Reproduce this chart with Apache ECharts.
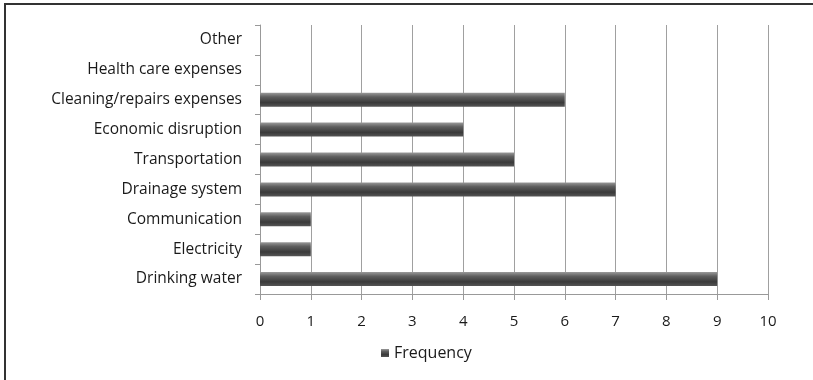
<!DOCTYPE html>
<html>
<head>
<meta charset="utf-8">
<script src="https://cdn.jsdelivr.net/npm/echarts@6/dist/echarts.min.js"></script>
<style>
  html, body { margin: 0; padding: 0; background: #fff; }
  #chart { width: 813px; height: 380px; }
</style>
</head>
<body>
<div id="chart"></div>
<script>
// categories bottom -> top (ECharts draws the first category at the bottom)
const categories = [
  'Drinking water', 'Electricity', 'Communication', 'Drainage system',
  'Transportation', 'Economic disruption', 'Cleaning/repairs expenses',
  'Health care expenses', 'Other'
];
const frequency = [9, 1, 1, 7, 5, 4, 6, 0, 0];
const xTicks = [0, 1, 2, 3, 4, 5, 6, 7, 8, 9, 10];

const chart = echarts.init(document.getElementById('chart'));
const font = 'Open Sans';

const option = {
  backgroundColor: '#fff',
  animation: false,
  grid: { top: 25, bottom: 86, left: 260, right: 45, containLabel: false },
  graphic: [
    {
      type: 'rect',
      shape: { x: 5, y: 4, width: 900, height: 500 },
      style: { fill: 'none', stroke: '#333', lineWidth: 2 }
    }
  ],
  legend: {
    bottom: 14,
    left: 376,
    itemWidth: 8,
    itemHeight: 8,
    itemGap: 6,
    icon: 'rect',
    textStyle: { color: '#1a1a1a', fontSize: 16, fontFamily: font },
    data: ['Frequency']
  },
  xAxis: {
    type: 'value',
    min: xTicks[0],
    max: xTicks[xTicks.length - 1],
    interval: 1,
    axisLine: { show: true, lineStyle: { color: '#999' } },
    axisTick: { show: true, length: 6, lineStyle: { color: '#999' } },
    axisLabel: { color: '#1a1a1a', fontSize: 15, fontFamily: font, margin: 20 },
    splitLine: { show: true, lineStyle: { color: '#a0a0a0', width: 1 } }
  },
  yAxis: {
    type: 'category',
    data: categories,
    axisLine: { show: true, lineStyle: { color: '#999' } },
    axisTick: { show: true, length: 5, lineStyle: { color: '#999' } },
    axisLabel: { color: '#1a1a1a', fontSize: 15.5, fontFamily: font, margin: 18 }
  },
  series: [
    {
      name: 'Frequency',
      type: 'bar',
      data: frequency,
      barWidth: 14,
      itemStyle: {
        color: new echarts.graphic.LinearGradient(0, 0, 0, 1, [
          { offset: 0, color: '#9a9a9a' },
          { offset: 0.3, color: '#5e5e5e' },
          { offset: 0.7, color: '#3a3a3a' },
          { offset: 1, color: '#555' }
        ]),
        borderWidth: 0
      }
    }
  ]
};
chart.setOption(option);
window.addEventListener('resize', () => chart.resize());
</script>
</body>
</html>
